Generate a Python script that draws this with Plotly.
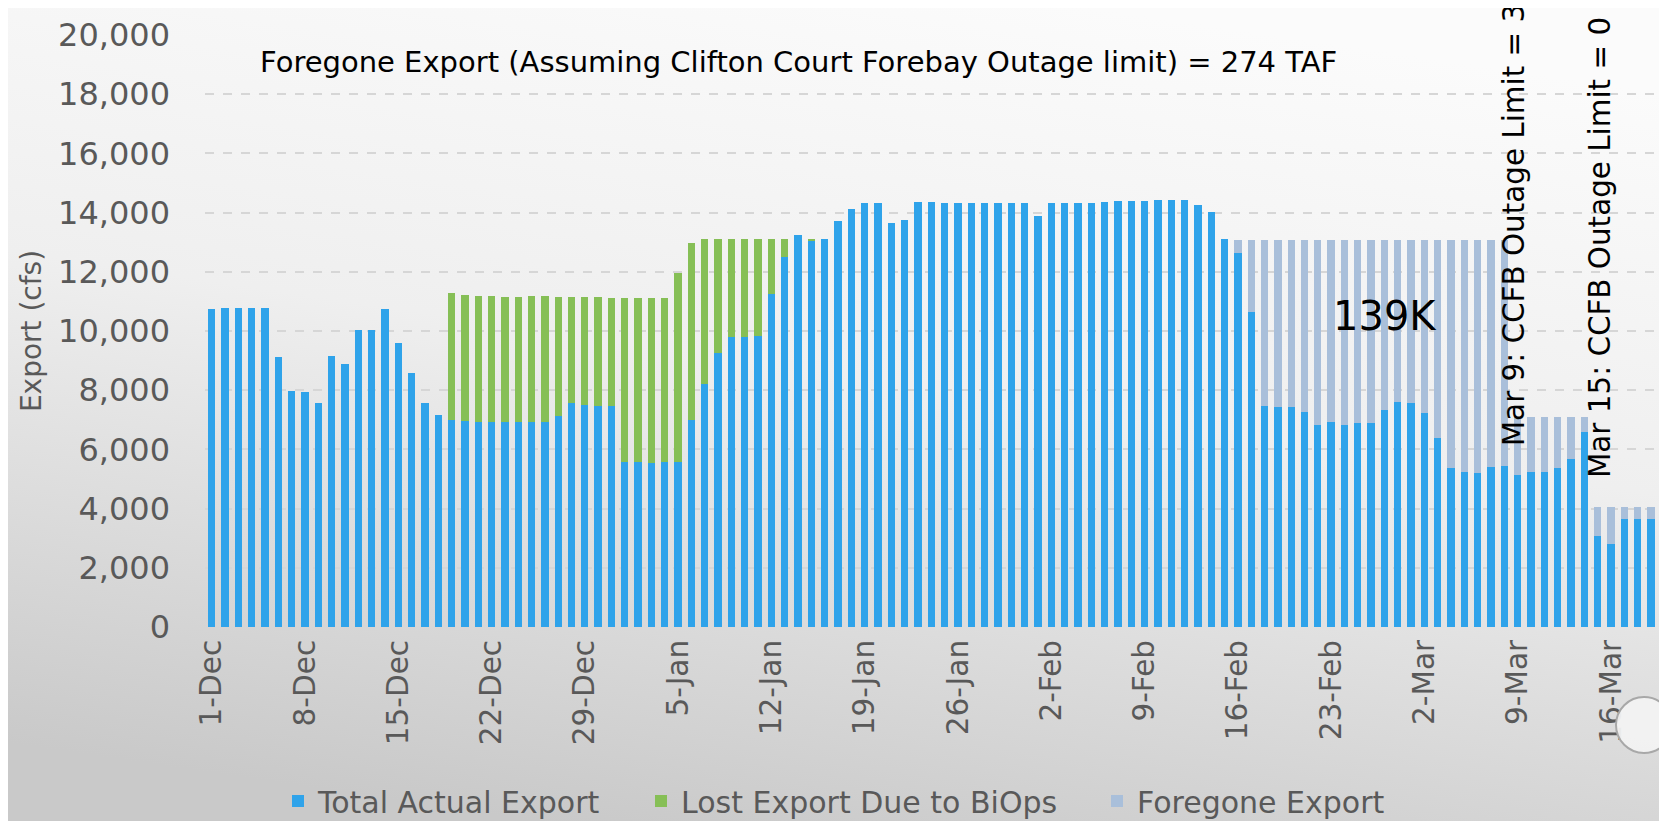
import base64
import plotly.graph_objects as go

# ---- categories: daily, 1-Dec .. 20-Mar ----
months = [("Dec", 31), ("Jan", 31), ("Feb", 28), ("Mar", 20)]
dates = [f"{d}-{m}" for m, n in months for d in range(1, n + 1)]

tick_labels = ["1-Dec", "8-Dec", "15-Dec", "22-Dec", "29-Dec", "5-Jan", "12-Jan",
               "19-Jan", "26-Jan", "2-Feb", "9-Feb", "16-Feb", "23-Feb", "2-Mar",
               "9-Mar", "16-Mar"]

# ---- series values (cfs) ----
total_actual = [
    10750, 10770, 10780, 10770, 10780, 9120, 7960, 7940, 7580, 9140,
    8890, 10050, 10030, 10750, 9580, 8570, 7560, 7150, 6990, 6970,
    6940, 6910, 6940, 6920, 6940, 6920, 7130, 7570, 7490, 7470,
    7480, 5570, 5570, 5540, 5570, 5570, 7010, 8220, 9260, 9790,
    9790, 9840, 11240, 12510, 13260, 13030, 13120, 13720, 14110, 14340,
    14340, 13660, 13750, 14350, 14350, 14340, 14320, 14310, 14310, 14310,
    14310, 14310, 13900, 14320, 14340, 14340, 14320, 14360, 14380, 14380,
    14390, 14410, 14410, 14440, 14250, 14030, 13120, 12620, 10640, 7450,
    7430, 7420, 7250, 6810, 6930, 6840, 6880, 6890, 7320, 7590,
    7570, 7240, 6390, 5380, 5230, 5190, 5410, 5440, 5140, 5230,
    5230, 5380, 5690, 6590, 3090, 2820, 3660, 3660, 3660, 3660,
]

lost_biops = [None] * 18 + [
    4280, 4240, 4250, 4270, 4220, 4240, 4230, 4250, 4030, 3570,
    3650, 3670, 3650, 5550, 5550, 5570, 5550, 6390, 5950, 4880,
    3840, 3310, 3310, 3260, 1860, 590, None, 70,
] + [None] * 64

foregone = [None] * 77 + [
    450, 2430, 5620, 5640, 5650, 5820, 6260, 6140, 6230, 6190,
    6180, 5750, 5480, 5500, 5830, 6680, 7690, 7840, 7880, 7660,
    7630, 1950, 1860, 1860, 1710, 1400, 500, 980, 1250, 410,
    410, 410, 410,
]

BLUE = "#2fa3ea"
GREEN = "#86bf56"
LIGHT = "#a9bfda"
GREY_TXT = "#595959"
FONT = "'DejaVu Sans', sans-serif"

fig = go.Figure()
fig.add_trace(go.Bar(x=dates, y=total_actual, name="Total Actual Export",
                     marker=dict(color=BLUE, line=dict(width=0)), legend="legend"))
fig.add_trace(go.Bar(x=dates, y=lost_biops, name="Lost Export Due to BiOps",
                     marker=dict(color=GREEN, line=dict(width=0)), legend="legend2"))
fig.add_trace(go.Bar(x=dates, y=foregone, name="Foregone Export",
                     marker=dict(color=LIGHT, line=dict(width=0)), legend="legend3"))

# background gradient (slide style)
svg = ('<svg xmlns="http://www.w3.org/2000/svg" width="1667" height="821">'
       '<defs><linearGradient id="g" x1="0.65" y1="0" x2="0.35" y2="1">'
       '<stop offset="0" stop-color="#fbfbfb"/><stop offset="0.45" stop-color="#efefef"/>'
       '<stop offset="1" stop-color="#c9c9c9"/></linearGradient></defs>'
       '<rect width="1667" height="821" fill="url(#g)"/></svg>')
src = "data:image/svg+xml;base64," + base64.b64encode(svg.encode()).decode()

W, H = 1667, 821
ML, MR, MT, MB = 197, 4, 27, 202
PW, PH = W - ML - MR, H - MT - MB

def px(x):
    return (x - ML) / PW

def py(y):
    return (H - MB - y) / PH

fig.add_layout_image(dict(source=src, xref="paper", yref="paper",
                          x=px(0), y=py(0), sizex=W / PW, sizey=H / PH,
                          xanchor="left", yanchor="top", sizing="stretch",
                          layer="below"))

leg_common = dict(orientation="h", yanchor="middle", y=py(793), xanchor="left",
                  font=dict(family=FONT, size=30, color=GREY_TXT),
                  bgcolor="rgba(0,0,0,0)")

fig.update_layout(
    width=W, height=H,
    margin=dict(l=ML, r=MR, t=MT, b=MB, autoexpand=False),
    paper_bgcolor="#e6e6e6",
    plot_bgcolor="rgba(0,0,0,0)",
    barmode="stack",
    bargap=0.45,
    showlegend=True,
    font=dict(family=FONT, color=GREY_TXT),
    legend=dict(x=px(270), **leg_common),
    legend2=dict(x=px(633), **leg_common),
    legend3=dict(x=px(1089), **leg_common),
    xaxis=dict(type="category", categoryorder="array", categoryarray=dates,
               tickmode="array", tickvals=tick_labels, ticktext=tick_labels,
               tickangle=-90, tickfont=dict(family=FONT, size=29.5, color=GREY_TXT),
               showgrid=False, showline=False, zeroline=False, ticks="",
               ticklabelstandoff=6, automargin=False),
    yaxis=dict(range=[0, 20000], dtick=2000, tickformat=",d",
               tickfont=dict(family=FONT, size=32, color=GREY_TXT),
               showgrid=True, gridcolor="#d6d6d6", griddash="dash", gridwidth=1.5,
               zeroline=False, showline=False, ticks="", ticklabelstandoff=34,
               title=dict(text="Export (cfs)", standoff=8,
                          font=dict(family=FONT, size=28, color=GREY_TXT)),
               automargin=False),
)

fig.add_annotation(text="Foregone Export (Assuming Clifton Court Forebay Outage limit) = 274 TAF",
                   xref="paper", yref="paper", x=px(790), y=py(54),
                   xanchor="center", yanchor="middle", showarrow=False,
                   font=dict(family=FONT, size=29, color="#000000"))
fig.add_annotation(text="139K", xref="paper", yref="paper", x=px(1377), y=py(308),
                   xanchor="center", yanchor="middle", showarrow=False,
                   font=dict(family=FONT, size=40, color="#000000"))
fig.add_annotation(text="Mar 9: CCFB Outage Limit = 3,000 cfs", xref="x", yref="paper",
                   x="9-Mar", xshift=-4, y=py(440), xanchor="center", yanchor="bottom",
                   textangle=-90, showarrow=False,
                   font=dict(family=FONT, size=29.4, color="#000000"))
fig.add_annotation(text="Mar 15: CCFB Outage Limit = 0 cfs", xref="x", yref="paper",
                   x="16-Mar", xshift=-11, y=py(472), xanchor="center", yanchor="bottom",
                   textangle=-90, showarrow=False,
                   font=dict(family=FONT, size=29.4, color="#000000"))

# decorative slide bubble
fig.add_shape(type="circle", xref="paper", yref="paper", layer="above",
              x0=px(1608), x1=px(1664), y0=py(745), y1=py(689),
              fillcolor="rgba(242,242,242,0.95)", line=dict(color="#a8a8a8", width=2))

fig.write_html("out.html")
